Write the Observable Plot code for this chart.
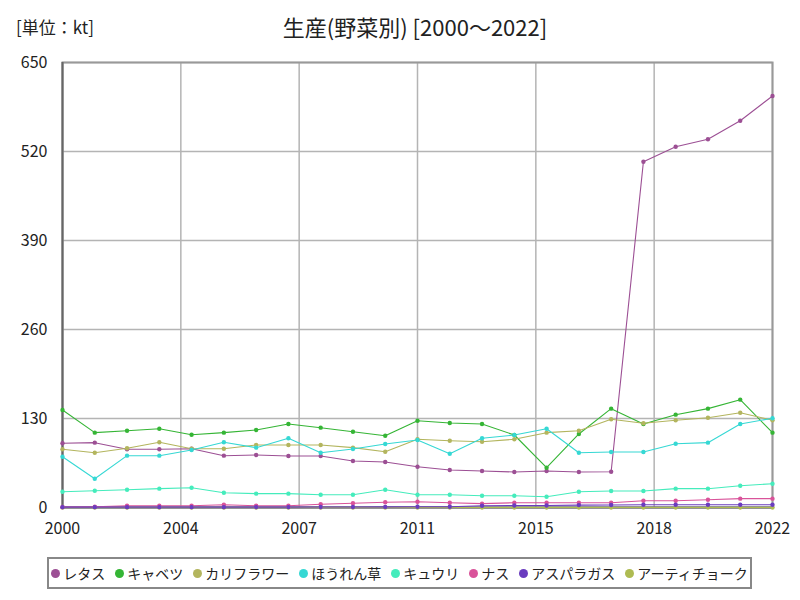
<!DOCTYPE html>
<html><head><meta charset="utf-8">
<script src="https://cdn.jsdelivr.net/npm/d3@7"></script>
<script src="https://cdn.jsdelivr.net/npm/@observablehq/plot@0.6"></script>
<style>
body{margin:0;background:#fff;font-family:"Noto Sans CJK JP","Noto Sans",sans-serif;}
#wrap{position:relative;width:800px;height:600px;}
#title{position:absolute;top:10px;left:0;width:830px;text-align:center;font-size:22px;color:#222;}
#unit{position:absolute;top:14px;left:16px;font-size:17px;color:#222;}
#chart{position:absolute;top:0;left:0;}
#legend{position:absolute;left:47px;top:557px;width:705px;height:32px;border:2px solid #888;box-sizing:border-box;display:flex;align-items:center;justify-content:center;gap:10px;font-size:14px;color:#222;}
#legend span.i{display:inline-flex;align-items:center;}
#legend span.d{display:inline-block;width:9px;height:9px;border-radius:50%;margin-right:3px;}
</style></head>
<body><div id="wrap"><div id="chart"></div><div id="unit">[単位：kt]</div><div id="title">生産(野菜別) [2000～2022]</div><div id="legend"></div></div>
<script>
const years = [2000,2001,2002,2003,2004,2005,2006,2007,2008,2009,2010,2011,2012,2013,2014,2015,2016,2017,2018,2019,2020,2021,2022];
const seriesNames = ["レタス","キャベツ","カリフラワー","ほうれん草","キュウリ","ナス","アスパラガス","アーティチョーク"];
const seriesColors = ["#9c4f94","#35b535","#b3b55e","#36d8d4","#45ecbc","#d9539a","#6a3cbf","#aebb52"];
const lettuce = [93.8,94.7,85.0,85.0,85.9,75.7,76.7,75.2,75.2,67.9,66.5,59.6,54.8,53.3,51.9,53.3,51.9,52.3,505,527,538,565,601];
const cabbage = [142.4,109.3,112.2,115.1,106.3,109.3,113.2,122.0,116.6,110.7,104.9,126.8,123.4,122.0,105.9,58.1,107.4,144.4,122.0,135.6,144.4,157.5,109.3];
const cauliflower = [85.0,80.0,86.5,95.2,85.9,85.9,91.3,91.3,91.3,87.4,81.5,99.6,97.6,96.1,99.6,109.3,112.2,128.8,123.0,127.4,131.2,138.5,127.4];
const spinach = [74.2,42.1,75.7,75.7,84.0,95.2,87.4,101.1,80.0,85.4,92.8,98.6,78.6,101.1,105.9,115.1,80.0,81.1,81.1,93.2,94.7,122.0,130.3];
const cucumber = [23.1,24.5,26.0,27.5,28.9,21.6,20.2,20.2,18.7,18.7,26.0,18.7,18.7,17.2,17.2,15.8,23.1,24.1,24.1,27.5,27.5,31.8,34.8];
const eggplant = [0.7,1.2,2.6,2.6,2.6,4.1,2.6,2.6,4.7,6.1,7.6,8.5,7.0,5.6,7.0,7.0,7.0,7.0,9.9,9.9,11.4,12.9,12.9];
const asparagus = [0.5,0.5,0.5,0.5,0.5,0.5,0.6,0.6,0.7,0.8,0.9,1.0,1.2,2.5,3.0,3.0,3.5,3.7,4.0,4.0,4.0,4.0,4.0];
const artichoke = [0.1,0.1,0.1,0.1,0.1,0.1,0.1,0.1,0.1,0.1,0.1,0.1,0.1,0.1,0.1,0.1,0.1,0.1,0.1,0.1,0.1,0.1,0.1];
const yTicks = [0,130,260,390,520,650];
const xTickLabels = ["2000","2004","2007","2011","2015","2018","2022"];

const allSeries = [lettuce,cabbage,cauliflower,spinach,cucumber,eggplant,asparagus,artichoke];
const drawOrder = [7,0,1,2,3,4,5,6];
const rows = [];
drawOrder.forEach(si => years.forEach((y,i) => rows.push({year:y, value:allSeries[si][i], name:seriesNames[si]})));
const x0 = years[0], x1 = years[years.length-1];
const xTicks = xTickLabels.map((_,k) => x0 + (x1-x0)*k/(xTickLabels.length-1));
const colorDomain = drawOrder.map(i=>seriesNames[i]);
const colorRange = drawOrder.map(i=>seriesColors[i]);

const chart = Plot.plot({
  width: 800, height: 545,
  marginLeft: 62, marginRight: 28, marginTop: 62, marginBottom: 38,
  style:{fontFamily:'"Noto Sans CJK JP",sans-serif', fontSize:"16px", color:"#222", background:"transparent"},
  x:{domain:[x0,x1], ticks:xTicks, tickFormat:(d,i)=>xTickLabels[i], tickSize:0, tickPadding:15, label:null},
  y:{domain:[0,650], ticks:yTicks, tickSize:0, tickPadding:15, label:null},
  color:{domain:colorDomain, range:colorRange},
  marks:[
    Plot.ruleX(xTicks, {stroke:"#b4b4b4", strokeWidth:1.5}),
    Plot.ruleY(yTicks, {stroke:"#b4b4b4", strokeWidth:1.5}),
    Plot.frame({stroke:"#999", strokeWidth:2}),
    Plot.ruleX([x0], {stroke:"#666", strokeWidth:2}),
    Plot.ruleY([0], {stroke:"#666", strokeWidth:2}),
    Plot.line(rows, {x:"year", y:"value", z:"name", stroke:"name", strokeWidth:1.1}),
    Plot.dot(rows, {x:"year", y:"value", fill:"name", r:2.2}),
    Plot.axisX({ticks:xTicks, tickFormat:(d,i)=>xTickLabels[i], tickSize:0, tickPadding:15, fontSize:16}),
    Plot.axisY({ticks:yTicks, tickSize:0, tickPadding:15, fontSize:16})
  ]
});
document.getElementById("chart").appendChild(chart);

const lg = document.getElementById("legend");
seriesNames.forEach((n,i)=>{
  const s = document.createElement("span"); s.className="i";
  s.innerHTML = `<span class="d" style="background:${seriesColors[i]}"></span>${n}`;
  lg.appendChild(s);
});
</script></body></html>
